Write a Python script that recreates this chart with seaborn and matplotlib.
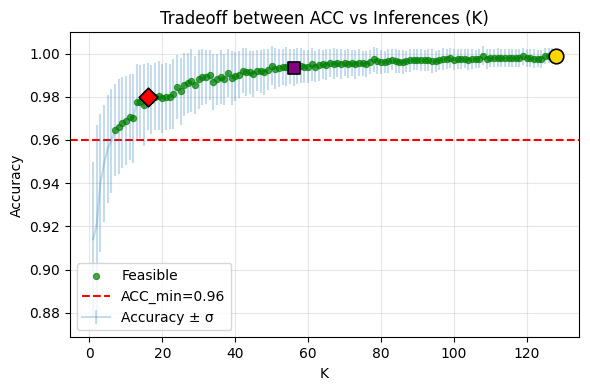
import matplotlib
matplotlib.use("Agg")
import matplotlib.pyplot as plt
import seaborn as sns
import pandas as pd
import numpy as np

K = list(range(1, 129))

accuracy = [
    0.914, 0.921, 0.940, 0.949, 0.956, 0.9595, 0.9646, 0.9662, 0.968, 0.969,
    0.9705, 0.970, 0.9775, 0.9778, 0.9762, 0.980, 0.9786, 0.980, 0.9804, 0.9794,
    0.980, 0.980, 0.9813, 0.9845, 0.9826, 0.9856, 0.9864, 0.9874, 0.9854, 0.988,
    0.989, 0.9892, 0.990, 0.987, 0.988, 0.989, 0.988, 0.991, 0.9887, 0.9894,
    0.9903, 0.9921, 0.9914, 0.9913, 0.9905, 0.992, 0.9918, 0.9915, 0.9925, 0.9944,
    0.9929, 0.9933, 0.9938, 0.994, 0.994, 0.9935, 0.9942, 0.9944, 0.994, 0.994,
    0.995, 0.994, 0.9947, 0.995, 0.9949, 0.9956, 0.9952, 0.9956, 0.9952, 0.9956,
    0.9954, 0.9956, 0.995, 0.9957, 0.9956, 0.9953, 0.9962, 0.9974, 0.9967, 0.9962,
    0.9962, 0.9967, 0.9972, 0.9967, 0.9963, 0.996, 0.9964, 0.9969, 0.9972, 0.9972,
    0.9971, 0.9969, 0.9969, 0.9964, 0.9964, 0.9969, 0.9975, 0.9975, 0.998, 0.9972,
    0.9975, 0.9975, 0.9975, 0.9972, 0.9975, 0.9975, 0.9977, 0.9991, 0.9975, 0.998,
    0.998, 0.998, 0.998, 0.998, 0.998, 0.998, 0.998, 0.998, 0.9988, 0.998,
    0.998, 0.9977, 0.9977, 0.9975, 0.999, 0.999, 0.999, 0.999,
]

sigma = [
    0.036, 0.046, 0.032, 0.027, 0.025, 0.024, 0.0215, 0.022, 0.021, 0.0205,
    0.020, 0.0205, 0.0175, 0.017, 0.019, 0.0155, 0.016, 0.0155, 0.016, 0.016,
    0.0155, 0.015, 0.016, 0.015, 0.0155, 0.0145, 0.014, 0.0145, 0.0135, 0.0135,
    0.013, 0.0125, 0.0115, 0.013, 0.012, 0.0125, 0.012, 0.011, 0.0125, 0.0115,
    0.011, 0.0105, 0.011, 0.010, 0.0105, 0.0095, 0.010, 0.0105, 0.0095, 0.009,
    0.0095, 0.009, 0.0085, 0.009, 0.008, 0.0085, 0.0085, 0.008, 0.0075, 0.0075,
    0.0075, 0.007, 0.0075, 0.0068, 0.007, 0.0065, 0.0072, 0.0065, 0.007, 0.0062,
    0.0065, 0.006, 0.0068, 0.0062, 0.0058, 0.006, 0.0055, 0.0058, 0.006, 0.0055,
    0.0052, 0.0055, 0.005, 0.0056, 0.0052, 0.0055, 0.005, 0.0053, 0.0048, 0.005,
    0.0052, 0.0048, 0.005, 0.0055, 0.005, 0.0047, 0.0052, 0.0046, 0.0045, 0.005,
    0.0046, 0.0048, 0.0044, 0.0047, 0.0045, 0.0043, 0.0046, 0.0042, 0.0045, 0.0043,
    0.0042, 0.0044, 0.004, 0.0043, 0.0041, 0.0042, 0.004, 0.0043, 0.0039, 0.0041,
    0.004, 0.0042, 0.0038, 0.004, 0.0037, 0.0035, 0.0034, 0.003,
]

ACC_MIN = 0.96
highlight_K = [16, 56, 128]
highlight_markers = ["D", "s", "o"]
highlight_colors = ["red", "purple", "gold"]
highlight_sizes = [90, 85, 110]

df = pd.DataFrame({"K": K, "acc": accuracy, "sd": sigma})
feasible = df[df["acc"] >= ACC_MIN]

fig, ax = plt.subplots(figsize=(5.9, 3.9), dpi=100)
fig.subplots_adjust(left=0.1186, right=0.9814, top=0.917, bottom=0.135)

sns.scatterplot(data=feasible, x="K", y="acc", ax=ax, color="green", alpha=0.7,
                s=20, edgecolor="green", linewidth=0.8, label="Feasible", zorder=3)
ax.axhline(ACC_MIN, color="red", linestyle="--", linewidth=1.5, label=f"ACC_min={ACC_MIN}")
ax.errorbar(df["K"], df["acc"], yerr=df["sd"], color="tab:blue", alpha=0.25,
            linewidth=1.5, label="Accuracy ± σ", zorder=2)

for k, m, c, s in zip(highlight_K, highlight_markers, highlight_colors, highlight_sizes):
    row = df[df["K"] == k]
    ax.scatter(row["K"], row["acc"], marker=m, color=c, s=s, edgecolor="black",
               linewidth=1.2, zorder=5)

ax.set_title("Tradeoff between ACC vs Inferences (K)")
ax.set_xlabel("K")
ax.set_ylabel("Accuracy")
ax.grid(True, alpha=0.3)
ax.legend(loc="lower left")
fig.savefig("out.png", dpi=100)
